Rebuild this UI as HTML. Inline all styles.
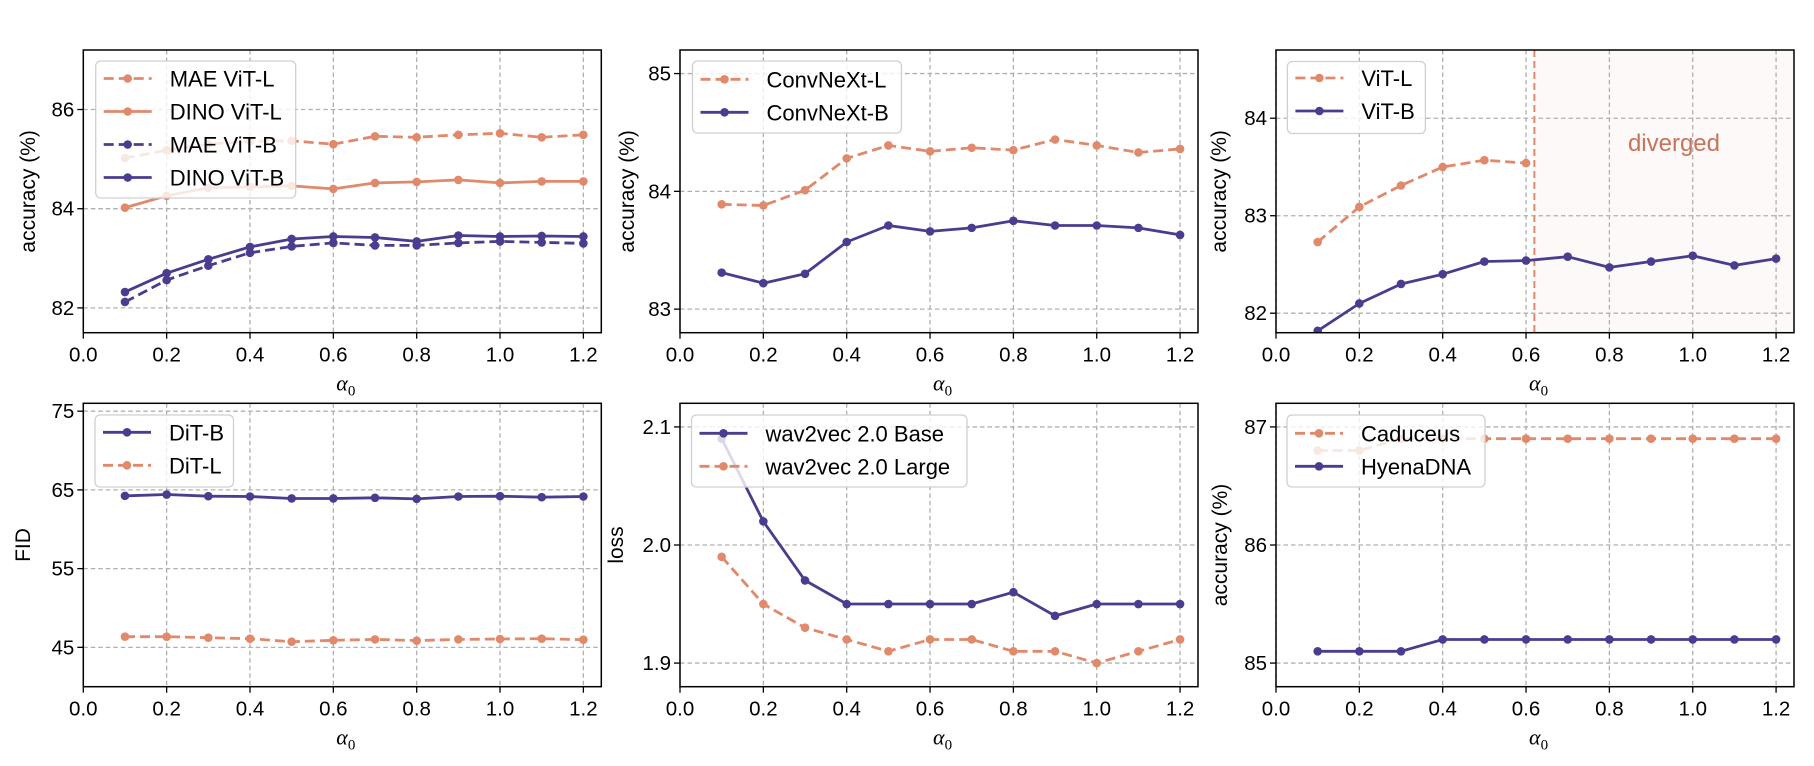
<!DOCTYPE html>
<html><head><meta charset="utf-8"><style>
html,body{margin:0;padding:0;background:#fff;}
svg{display:block;font-family:"Liberation Sans",Arial,sans-serif;}
</style></head><body>
<svg id="fig" width="1814" height="766" viewBox="0 0 1814 766" xmlns="http://www.w3.org/2000/svg"></svg>
<script>
const alphas = [0.1,0.2,0.3,0.4,0.5,0.6,0.7,0.8,0.9,1.0,1.1,1.2];
const xTicks = [0.0,0.2,0.4,0.6,0.8,1.0,1.2];
const xTickLabels = ["0.0","0.2","0.4","0.6","0.8","1.0","1.2"];
// panel 1
const maeVitL = [85.02,85.18,85.30,85.36,85.37,85.30,85.46,85.44,85.49,85.52,85.44,85.49];
const dinoVitL = [84.02,84.26,84.42,84.44,84.46,84.40,84.52,84.54,84.58,84.52,84.55,84.55];
const maeVitB = [82.12,82.56,82.85,83.11,83.24,83.31,83.26,83.26,83.31,83.34,83.32,83.30];
const dinoVitB = [82.32,82.70,82.98,83.23,83.39,83.44,83.42,83.34,83.46,83.44,83.45,83.44];
const p1Ticks = [82,84,86];
// panel 2
const convL = [83.89,83.88,84.01,84.28,84.39,84.34,84.37,84.35,84.44,84.39,84.33,84.36];
const convB = [83.31,83.22,83.30,83.57,83.71,83.66,83.69,83.75,83.71,83.71,83.69,83.63];
const p2Ticks = [83,84,85];
// panel 3
const vitLAlphas = [0.1,0.2,0.3,0.4,0.5,0.6];
const vitL = [82.73,83.09,83.31,83.50,83.57,83.54];
const vitB = [81.82,82.10,82.30,82.40,82.53,82.54,82.58,82.47,82.53,82.59,82.49,82.56];
const divergeAlpha = 0.62;
const p3Ticks = [82,83,84];
// panel 4
const ditB = [64.24,64.41,64.20,64.16,63.91,63.91,63.99,63.86,64.16,64.20,64.07,64.16];
const ditL = [46.35,46.35,46.23,46.10,45.72,45.89,46.01,45.85,46.01,46.06,46.10,45.97];
const p4Ticks = [45,55,65,75];
// panel 5
const w2vBase = [2.09,2.02,1.97,1.95,1.95,1.95,1.95,1.96,1.94,1.95,1.95,1.95];
const w2vLarge = [1.99,1.95,1.93,1.92,1.91,1.92,1.92,1.91,1.91,1.90,1.91,1.92];
const p5Ticks = [1.9,2.0,2.1];
const p5TickLabels = ["1.9","2.0","2.1"];
// panel 6
const caduceus = [86.8,86.8,86.9,86.9,86.9,86.9,86.9,86.9,86.9,86.9,86.9,86.9];
const hyena = [85.1,85.1,85.1,85.2,85.2,85.2,85.2,85.2,85.2,85.2,85.2,85.2];
const p6Ticks = [85,86,87];

const OR = "#e0896b", PU = "#4a3d8f";
const NS = "http://www.w3.org/2000/svg";
const svg = document.getElementById('fig');
function mk(tag, attrs, parent){ const e=document.createElementNS(NS,tag); for(const k in attrs) e.setAttribute(k,attrs[k]); (parent||svg).appendChild(e); return e; }

function panel(cfg){
  const g = mk('g',{});
  
  
  const L=cfg.L, T=cfg.T, W=518, H=cfg.B-cfg.T, B=cfg.B;
  const sx = a => L + a/1.243*W;
  const sy = v => B - (v-cfg.ylo)/(cfg.yhi-cfg.ylo)*H;
  if(cfg.shade!==undefined){
    const r=mk('rect',{x:sx(cfg.shade),y:T,width:L+W-sx(cfg.shade),height:H,fill:"#fdf9f9"},g);
    
    
  }
  xTicks.forEach((t,i)=>{
    const x=sx(t);
    const gl=mk('line',{x1:x,x2:x,y1:T,y2:B,stroke:"#b0b0b0","stroke-width":1.3,"stroke-dasharray":"4.5,3"},g);
    
    
    mk('line',{x1:x,x2:x,y1:B,y2:B+6,stroke:"#000","stroke-width":1.3},g);
    const tx=mk('text',{x:x,y:B+29,"font-size":20.5,"text-anchor":"middle",fill:"#000"},g);
    tx.textContent=xTickLabels[i];
    
    
  });
  cfg.yt.forEach((t,i)=>{
    const y=sy(t);
    const gl=mk('line',{x1:L,x2:L+W,y1:y,y2:y,stroke:"#b0b0b0","stroke-width":1.3,"stroke-dasharray":"4.5,3"},g);
    
    
    mk('line',{x1:L-6,x2:L,y1:y,y2:y,stroke:"#000","stroke-width":1.3},g);
    const tx=mk('text',{x:L-9,y:y+7,"font-size":20.5,"text-anchor":"end",fill:"#000"},g);
    tx.textContent=cfg.ytl?cfg.ytl[i]:String(t);
    
    
  });
  if(cfg.vline!==undefined){
    const v=mk('line',{x1:sx(cfg.vline),x2:sx(cfg.vline),y1:T,y2:B,stroke:OR,"stroke-width":2,"stroke-dasharray":"7,4"},g);
    
    
    const d=mk('text',{x:sx(0.955),y:T+101,"font-size":24,"text-anchor":"middle",fill:"#c8735a"},g);
    d.textContent="diverged";
    
    
  }
  const clip = 'clip-'+cfg.name;
  const cp=mk('clipPath',{id:clip},g); mk('rect',{x:L,y:T,width:W,height:H},cp);
  cfg.series.forEach(s=>{
    const xs=s.x||alphas;
    const sg=mk('g',{"clip-path":"url(#"+clip+")"},g);
    
    
    const pts=s.v.map((v,i)=>sx(xs[i]).toFixed(1)+","+sy(v).toFixed(1)).join(" ");
    const pl=mk('polyline',{points:pts,fill:"none",stroke:s.c,"stroke-width":2.8,"stroke-linejoin":"round"},sg);
    if(s.d) pl.setAttribute('stroke-dasharray','10,5');
    
    
    s.v.forEach((v,i)=>{
      const c=mk('circle',{cx:sx(xs[i]),cy:sy(v),r:4.3,fill:s.c},sg);
      
      
    });
  });
  const lg=cfg.lg;
  const leg=mk('g',{},g);
  
  
  mk('rect',{x:lg.x,y:lg.y,width:lg.w,height:lg.h,rx:5,fill:"rgba(255,255,255,0.8)",stroke:"#d0d0d0","stroke-width":1.3},leg);
  cfg.series.forEach((s,i)=>{
    const y=lg.y+lg.r0+i*33;
    const e=mk('g',{},leg);
    
    
    const ln=mk('line',{x1:lg.x+8,x2:lg.x+56,y1:y,y2:y,stroke:s.c,"stroke-width":2.8},e);
    if(s.d) ln.setAttribute('stroke-dasharray','10,5');
    mk('circle',{cx:lg.x+32,cy:y,r:4.3,fill:s.c},e);
    const t=mk('text',{x:lg.x+74,y:y+8,"font-size":22,fill:"#000"},e);
    t.textContent=s.label;
  });
  const sp=mk('rect',{x:L,y:T,width:W,height:H,fill:"none",stroke:"#000","stroke-width":1.5},g);
  
  
  const yl=mk('text',{x:0,y:0,"font-size":21,"text-anchor":"middle",fill:"#000",transform:`translate(${cfg.ylx},${(T+B)/2}) rotate(-90)`},g);
  yl.textContent=cfg.ylabel;
  
  
  const xl=mk('text',{x:L+W/2-6,y:B+58,"font-size":22,"font-style":"italic","font-family":"Liberation Serif, serif",fill:"#000"},g);
  xl.textContent="α";
  const sub=mk('tspan',{"font-size":15,"font-style":"normal",dy:5},xl); sub.textContent="0";
  
  
}

panel({name:"panel-vit-mae-dino",L:83.3,T:50,B:332.7,ylo:81.5,yhi:87.2,yt:p1Ticks,ylabel:"accuracy (%)",ylx:35,
  lg:{x:95.7,y:61,w:200,h:137,r0:17.5},
  series:[{key:"mae-vit-l",label:"MAE ViT-L",v:maeVitL,c:OR,d:true},{key:"dino-vit-l",label:"DINO ViT-L",v:dinoVitL,c:OR},
          {key:"mae-vit-b",label:"MAE ViT-B",v:maeVitB,c:PU,d:true},{key:"dino-vit-b",label:"DINO ViT-B",v:dinoVitB,c:PU}]});
panel({name:"panel-convnext",L:680,T:50,B:332.7,ylo:82.8,yhi:85.2,yt:p2Ticks,ylabel:"accuracy (%)",ylx:634,
  lg:{x:692.5,y:61,w:209,h:72,r0:18.3},
  series:[{key:"convnext-l",label:"ConvNeXt-L",v:convL,c:OR,d:true},{key:"convnext-b",label:"ConvNeXt-B",v:convB,c:PU}]});
panel({name:"panel-vit-diverged",L:1276,T:50,B:332.7,ylo:81.8,yhi:84.7,yt:p3Ticks,ylabel:"accuracy (%)",ylx:1226,shade:divergeAlpha,vline:divergeAlpha,
  lg:{x:1287.4,y:61.5,w:138,h:72,r0:16.5},
  series:[{key:"vit-l",label:"ViT-L",x:vitLAlphas,v:vitL,c:OR,d:true},{key:"vit-b",label:"ViT-B",v:vitB,c:PU}]});
panel({name:"panel-dit-fid",L:83.3,T:403.3,B:686.7,ylo:40,yhi:76,yt:p4Ticks,ylabel:"FID",ylx:30,
  lg:{x:95,y:415,w:138.5,h:72,r0:17.3},
  series:[{key:"dit-b",label:"DiT-B",v:ditB,c:PU},{key:"dit-l",label:"DiT-L",v:ditL,c:OR,d:true}]});
panel({name:"panel-wav2vec-loss",L:680,T:403.3,B:686.7,ylo:1.88,yhi:2.12,yt:p5Ticks,ytl:p5TickLabels,ylabel:"loss",ylx:623,
  lg:{x:691.5,y:415,w:275.5,h:72,r0:18.3},
  series:[{key:"w2v-base",label:"wav2vec 2.0 Base",v:w2vBase,c:PU},{key:"w2v-large",label:"wav2vec 2.0 Large",v:w2vLarge,c:OR,d:true}]});
panel({name:"panel-dna",L:1276,T:403.3,B:686.7,ylo:84.8,yhi:87.2,yt:p6Ticks,ylabel:"accuracy (%)",ylx:1227,
  lg:{x:1287,y:415,w:198,h:72,r0:18.3},
  series:[{key:"caduceus",label:"Caduceus",v:caduceus,c:OR,d:true},{key:"hyenadna",label:"HyenaDNA",v:hyena,c:PU}]});
</script>
</body></html>
